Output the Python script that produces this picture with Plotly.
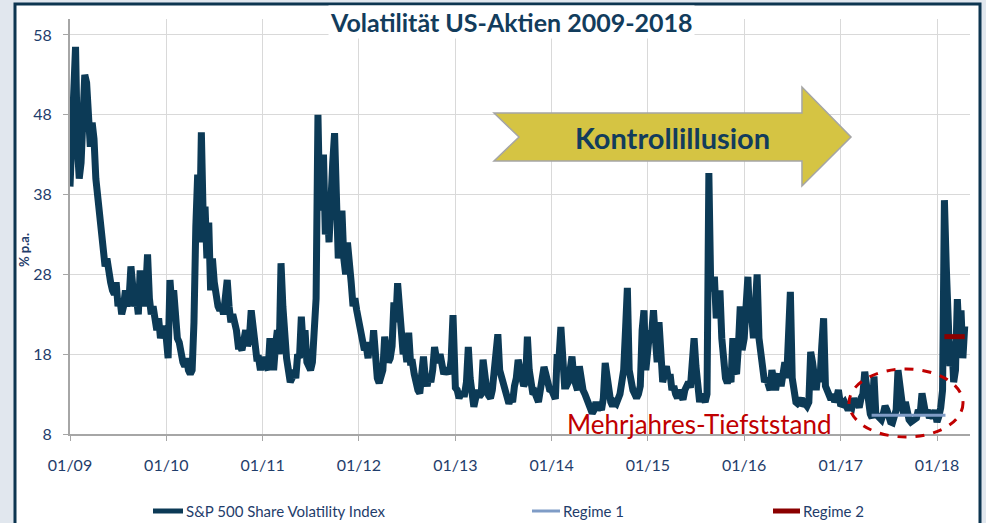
import pandas as pd
import plotly.graph_objects as go

# ---------------- data (weekly readings, % p.a.) ----------------
vix_2009 = [39, 45, 51, 56.5, 44, 40, 42, 47, 53, 52, 46, 44, 47, 45, 40, 38, 36, 34, 31, 29,
            30, 28, 27, 26, 25.5, 27, 24, 25, 23, 24, 26, 24, 25, 29, 26, 24, 25, 23, 28.5, 25,
            24, 26, 30.5, 25, 23, 24, 22, 21, 22.5, 20, 21, 21.5]
vix_2010 = [20, 17.5, 27.3, 24, 26, 22, 20, 19.5, 18, 17, 16.5, 17.5, 16, 15.5, 16, 22, 34, 40.5, 32, 45.8,
            35, 36.5, 30, 34.5, 26, 30, 27, 25, 24, 23.5, 24, 23, 26, 27.3, 24, 22, 23, 22, 21, 19,
            19, 18.5, 20.5, 21, 19, 20, 23.5, 21, 19, 17.5, 17.5, 16]
vix_2011 = [17.6, 17, 16, 16, 20, 16.5, 16, 19, 21, 18, 29.4, 24, 18, 17.5, 16, 14.5, 15, 16, 15, 18,
            17.5, 22.7, 19, 21, 17, 16.5, 16, 17, 20, 25, 48, 36, 39, 43, 33, 37, 32, 41, 42, 45.7,
            34, 30, 33, 36, 30, 28, 32, 30, 27, 24, 25, 23.5]
vix_2012 = [22, 21, 19, 18.5, 19, 17.5, 19.5, 18, 21, 17, 15, 14.4, 15, 16, 20.2, 19, 17, 17.5, 19, 24.5,
            22, 26.9, 22, 21, 18, 19, 17, 20.7, 17, 17, 15.5, 14, 13.5, 13.1, 15, 17.7, 15, 14, 15.5, 14.5,
            16, 18.9, 17.5, 17, 18, 17, 15.5, 16, 16, 15.5, 17.3, 22.9]
vix_2013 = [13.8, 13.5, 12.5, 13, 12.9, 13, 14.5, 18.9, 15, 12.5, 11.4, 12.5, 13.5, 12.7, 13, 17.3, 14, 13.5, 12.8, 12.5,
            13.5, 16, 17, 20.5, 16, 15, 14, 13.5, 12.5, 11.8, 12.5, 12, 14, 15, 17.3, 16, 15, 14, 14.5, 20.2,
            16, 13.5, 13, 13.2, 12.4, 12, 13.5, 14.5, 16.4, 15.5, 14, 13.6]
vix_2014 = [13.5, 12.5, 12.4, 18, 17.5, 21.4, 15, 14, 14, 14.5, 16, 17.7, 15, 14, 13.5, 16.5, 14, 13.5, 13, 12.5,
            12, 11.5, 10.6, 11, 12, 11, 11.5, 11, 12.5, 16.9, 15, 13.5, 12, 11.5, 12, 11.8, 12.5, 13, 14.5, 16,
            21, 26.3, 16, 14, 13.5, 13, 12.5, 13, 14, 21, 23.5, 16]
vix_2015 = [19, 21, 20.5, 23.5, 20, 17, 22, 16, 14.5, 15.5, 16.5, 15, 15.5, 13.5, 14, 13, 12.5, 13.5, 12.7, 12.3,
            13.5, 14, 14.5, 13.8, 18, 20, 16.5, 12.5, 12, 13, 12.5, 12, 13, 40.7, 26.5, 26, 27.7, 22.5, 24, 26,
            20, 17, 15, 14.4, 15, 14.5, 20, 16, 15.5, 19, 24, 18.5]
vix_2016 = [20, 24, 27.7, 22, 23, 20, 26, 28, 20, 18, 16, 14.5, 15, 14, 13.5, 16, 14, 13.5, 15, 15.5,
            14, 16, 17, 15, 21, 25.8, 15, 13, 12, 11.8, 12, 12.5, 11.5, 11.8, 11.5, 12, 18.3, 17, 15, 13.5,
            16, 14.5, 19, 22.5, 14, 13.5, 12.5, 12.3, 13, 12, 12.5, 13.5]
vix_2017 = [11.5, 11.7, 12, 11.5, 11, 11.5, 11.3, 12.5, 11.5, 12, 11.3, 12.5, 13, 15.8, 14, 10.8, 10.5, 10, 15.2, 10.5,
            10.2, 10, 9.8, 10.5, 11.5, 11, 10, 9.5, 9.4, 10.3, 11, 16, 14, 11, 10.5, 12, 10.2, 9.8, 9.5, 9.6,
            9.7, 10, 11, 10.5, 13.1, 11.5, 10.5, 11, 10, 10.5, 10, 11]
vix_2018 = [9.5, 10.2, 11.3, 13.5, 37.3, 29, 19.5, 16.5, 19.6, 14.5, 16, 24.9, 20, 23.5, 17.5, 21.5]

years = [2009, 2010, 2011, 2012, 2013, 2014, 2015, 2016, 2017, 2018]
yearly_values = [vix_2009, vix_2010, vix_2011, vix_2012, vix_2013, vix_2014, vix_2015, vix_2016, vix_2017, vix_2018]

regime1_dates = ["2017-04-28", "2018-02-02"]
regime1_values = [10.35, 10.35]
regime2_dates = ["2018-01-29", "2018-04-16"]
regime2_values = [20.2, 20.2]

tick_dates = [f"{y}-01-01" for y in years]
tick_labels = [f"01/{str(y)[2:]}" for y in years]
y_ticks = [8, 18, 28, 38, 48, 58]

series_name = "S&P 500 Share Volatility Index"
regime1_name = "Regime 1"
regime2_name = "Regime 2"
title_text = "Volatilität US-Aktien 2009-2018"
arrow_text = "Kontrollillusion"
low_text = "Mehrjahres-Tiefststand"

# build date index per year
dates, values = [], []
for y, vals in zip(years, yearly_values):
    d = pd.date_range(f"{y}-01-01", periods=len(vals), freq="7D")
    dates.extend(d)
    values.extend(vals)

# ---------------- layout geometry ----------------
W, H = 986, 523
L, R, T, B = 70, 970, 19, 434
PW, PH = R - L, B - T


def px(x):
    return (x - L) / PW


def py(y):
    return (B - y) / PH


NAVY = "#0c3a56"
TEXT_NAVY = "#1f3d6b"
FONT = "Lato, 'Open Sans', sans-serif"

fig = go.Figure()
fig.add_trace(go.Scatter(x=dates, y=values, mode="lines", name=series_name,
                         line=dict(color=NAVY, width=7), showlegend=False))
fig.add_trace(go.Scatter(x=regime1_dates, y=regime1_values, mode="lines", name=regime1_name,
                         line=dict(color="#7f9cc6", width=3), showlegend=False))
fig.add_trace(go.Scatter(x=regime2_dates, y=regime2_values, mode="lines", name=regime2_name,
                         line=dict(color="#8b0000", width=5), showlegend=False))

shapes = []
# outer frame
shapes.append(dict(type="rect", xref="paper", yref="paper", layer="below",
                   x0=px(15), x1=px(980), y0=py(530), y1=py(4),
                   fillcolor="white", line=dict(color="#0d3550", width=3)))
# arrow
pts = [(494, 113), (519, 137), (494, 161), (802, 161), (802, 186), (851, 137), (802, 87), (802, 113)]
path = "M " + " L ".join(f"{px(a):.4f},{py(b):.4f}" for a, b in pts) + " Z"
shapes.append(dict(type="path", xref="paper", yref="paper", path=path,
                   fillcolor="#d5c443", line=dict(color="#a5a5a5", width=1.5), layer="above"))
# ellipse
shapes.append(dict(type="circle", xref="paper", yref="paper",
                   x0=px(849), x1=px(963), y0=py(437), y1=py(369),
                   line=dict(color="#c00000", width=3, dash="dash")))
# legend symbols
shapes.append(dict(type="line", xref="paper", yref="paper", x0=px(153), x1=px(183), y0=py(511), y1=py(511),
                   line=dict(color=NAVY, width=5)))
shapes.append(dict(type="line", xref="paper", yref="paper", x0=px(532), x1=px(560), y0=py(511), y1=py(511),
                   line=dict(color="#7f9cc6", width=3)))
shapes.append(dict(type="line", xref="paper", yref="paper", x0=px(773), x1=px(800), y0=py(511), y1=py(511),
                   line=dict(color="#8b0000", width=5)))

annotations = [
    dict(text=f"<b>{title_text}</b>", xref="paper", yref="paper", x=px(511), y=py(22),
         xanchor="center", yanchor="middle", showarrow=False, bgcolor="white",
         font=dict(family=FONT, size=25, color="#123c5c")),
    dict(text=f"<b>{arrow_text}</b>", xref="paper", yref="paper", x=px(672), y=py(137),
         xanchor="center", yanchor="middle", showarrow=False,
         font=dict(family=FONT, size=29, color="#123c5c")),
    dict(text=low_text, xref="paper", yref="paper", x=px(699), y=py(424),
         xanchor="center", yanchor="middle", showarrow=False,
         font=dict(family=FONT, size=26, color="#c00000")),
    dict(text="<b>% p.a.</b>", xref="paper", yref="paper", x=px(24), y=py(250), textangle=-90,
         xanchor="center", yanchor="middle", showarrow=False,
         font=dict(family=FONT, size=13, color=TEXT_NAVY)),
    dict(text=series_name, xref="paper", yref="paper", x=px(184), y=py(511),
         xanchor="left", yanchor="middle", showarrow=False,
         font=dict(family=FONT, size=15, color=TEXT_NAVY)),
    dict(text=regime1_name, xref="paper", yref="paper", x=px(561), y=py(511),
         xanchor="left", yanchor="middle", showarrow=False,
         font=dict(family=FONT, size=15, color=TEXT_NAVY)),
    dict(text=regime2_name, xref="paper", yref="paper", x=px(801), y=py(511),
         xanchor="left", yanchor="middle", showarrow=False,
         font=dict(family=FONT, size=15, color=TEXT_NAVY)),
]

fig.update_layout(
    width=W, height=H,
    margin=dict(l=L, r=W - R, t=T, b=H - B, pad=0),
    paper_bgcolor="#e1e7ee",
    plot_bgcolor="rgba(0,0,0,0)",
    showlegend=False,
    shapes=shapes,
    annotations=annotations,
    font=dict(family=FONT, color=TEXT_NAVY),
)
fig.update_xaxes(type="date", range=["2009-01-01", "2018-05-06"],
                 tickvals=tick_dates, ticktext=tick_labels,
                 showgrid=True, gridcolor="#d9d9d9", gridwidth=1,
                 showline=True, linecolor="#a6a6a6", linewidth=2,
                 ticks="outside", ticklen=5, tickcolor="#a6a6a6", ticklabelstandoff=11,
                 tickfont=dict(family=FONT, size=16, color=TEXT_NAVY), zeroline=False)
fig.update_yaxes(range=[8, 60], tickvals=y_ticks,
                 showgrid=True, gridcolor="#d9d9d9", gridwidth=1,
                 showline=True, linecolor="#a6a6a6", linewidth=2,
                 ticks="outside", ticklen=5, tickcolor="#a6a6a6", ticklabelstandoff=8,
                 tickfont=dict(family=FONT, size=16, color=TEXT_NAVY), zeroline=False)

fig.write_html("out.html", config={"displayModeBar": False},
               post_script="document.body.style.margin='0px';document.body.style.overflow='hidden';")
